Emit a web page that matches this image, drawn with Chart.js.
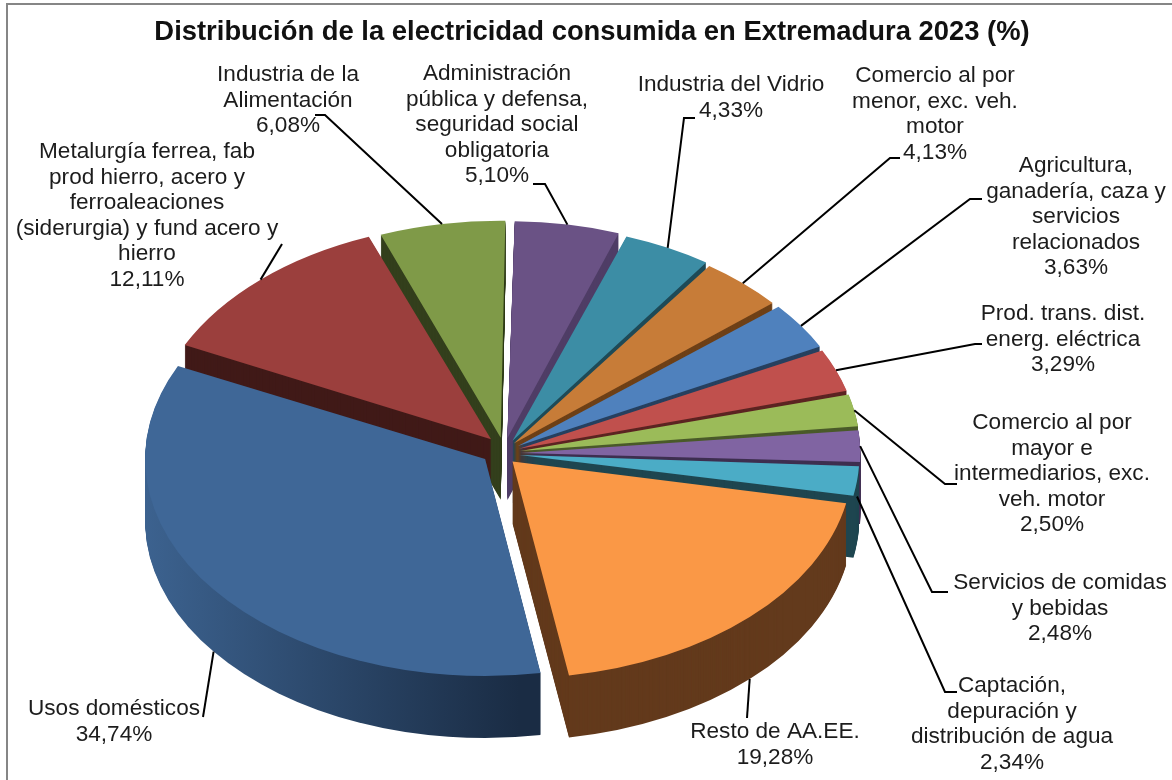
<!DOCTYPE html>
<html lang="es">
<head>
<meta charset="utf-8">
<title>Distribución de la electricidad</title>
<script src="https://cdn.jsdelivr.net/npm/chart.js@4/dist/chart.umd.min.js"></script>
<style>
  html, body { margin: 0; background: #fff; overflow: hidden; }
  #marco { position: absolute; left: 6px; top: 3px; width: 1166px; height: 777px; border-left: 2px solid #868686; border-top: 2px solid #868686; box-sizing: border-box; }
  #grafico { position: absolute; left: 0; top: 0; }
</style>
</head>
<body>
<div id="marco"></div>
<canvas id="grafico" width="1172" height="780"></canvas>
<script>
// Sectores en sentido horario desde las 12
const categorias = [
    'Administración pública y defensa, seguridad social obligatoria',
    'Industria del Vidrio',
    'Comercio al por menor, exc. veh. motor',
    'Agricultura, ganadería, caza y servicios relacionados',
    'Prod. trans. dist. energ. eléctrica',
    'Comercio al por mayor e intermediarios, exc. veh. motor',
    'Servicios de comidas y bebidas',
    'Captación, depuración y distribución de agua',
    'Resto de AA.EE.',
    'Usos domésticos',
    'Metalurgía ferrea, fab prod hierro, acero y ferroaleaciones (siderurgia) y fund acero y hierro',
    'Industria de la Alimentación'
];
const valores = [5.10, 4.33, 4.13, 3.63, 3.29, 2.50, 2.48, 2.34, 19.28, 34.74, 12.11, 6.08];

// Texto de cada etiqueta ya partido en líneas
const lineasEtiqueta = [
    ['Administración', 'pública y defensa,', 'seguridad social', 'obligatoria'],
    ['Industria del Vidrio'],
    ['Comercio al por', 'menor, exc. veh.', 'motor'],
    ['Agricultura,', 'ganadería, caza y', 'servicios', 'relacionados'],
    ['Prod. trans. dist.', 'energ. eléctrica'],
    ['Comercio al por', 'mayor e', 'intermediarios, exc.', 'veh. motor'],
    ['Servicios de comidas', 'y bebidas'],
    ['Captación,', 'depuración y', 'distribución de agua'],
    ['Resto de AA.EE.'],
    ['Usos domésticos'],
    ['Metalurgía ferrea, fab', 'prod hierro, acero y', 'ferroaleaciones', '(siderurgia) y fund acero y', 'hierro'],
    ['Industria de la', 'Alimentación']
];

const coloresCara = ['#6A5285', '#3C8DA5', '#C77C38', '#4F81BD', '#C0504D', '#9BBB59', '#8064A2', '#4BACC6', '#FA9846', '#3F6797', '#9B3F3D', '#7F9A48'];
const coloresLado = ['#4F3D66', '#1E4A57', '#6E4017', '#27405F', '#5C2422', '#4A5A2A', '#3E2F50', '#1F4650', '#633A1C', null, '#411A18', '#333F1C'];

// Separación de cada sector respecto al centro (la opción offset mueve offset/4 px)
const separacion = [48, 40, 32, 36, 36, 40, 44, 48, 60, 104, 80, 48];
// Corrección fina del vértice de cada sector, en px de pantalla
const ajuste = [[-5, 1.5], [-2.5, 2.1], [-2.3, 2.7], [-0.3, 4.6], [-0.2, 6], [-0.6, 7.2], [-1.8, 8.2], [-3.7, 9.1], [-9, 9], [-2, 3], [-4, 4.5], [-7, 1]];

// Centro de la primera línea de cada etiqueta
const posEtiqueta = [
    [497, 74], [731, 85], [935, 76], [1076, 166], [1063, 314], [1052, 423],
    [1060, 583], [1012, 686], [775, 732], [114, 709], [147, 152], [288, 75]
];
// Quiebros de la línea guía, de la etiqueta hacia el sector
const quiebros = [
    [[533, 184], [545, 184]],
    [[695, 118], [684, 118]],
    [[900, 158], [890, 158]],
    [[982, 199], [970, 199]],
    [[982, 344], [975, 344]],
    [[957, 484], [945, 484]],
    [[948, 592], [932, 592]],
    [[957, 692], [945, 692]],
    [[747, 718]],
    [[203, 717]],
    [[282, 244]],
    [[315, 115], [325, 115]]
];
// Parte de la pared lateral que baja la línea guía
const caidaGuia = [0, 0, 0, 0, 0, 0, 0, 0.25, 1, 1, 0, 0];

const vista = { cx: 510, cy: 445, rx: 340, ry: 217, fondo: 62 };
const fuente = '"Liberation Sans", Arial, sans-serif';

function ponerVista(ctx, arco, i, bajada) {
    ctx.translate(vista.cx + ajuste[i][0], vista.cy + ajuste[i][1] + bajada);
    ctx.scale(vista.rx / arco.outerRadius, vista.ry / arco.outerRadius);
    ctx.translate(-arco.x, -arco.y);
}

// Tarta en relieve: cada sector se apila capa a capa con el propio ArcElement
const relieve = {
    id: 'relieve',
    beforeDatasetsDraw(chart) {
        const ctx = chart.ctx;
        const arcos = chart.getDatasetMeta(0).data;
        const orden = arcos.map((a, i) => i).sort((a, b) => {
            const ma = (arcos[a].startAngle + arcos[a].endAngle) / 2;
            const mb = (arcos[b].startAngle + arcos[b].endAngle) / 2;
            return Math.sin(ma) - Math.sin(mb);
        });
        orden.forEach(i => {
            const arco = arcos[i];
            let lado = coloresLado[i];
            if (!lado) {
                lado = ctx.createLinearGradient(arco.x - arco.outerRadius, 0, arco.x + arco.outerRadius * 0.1, 0);
                lado.addColorStop(0, '#3C628F');
                lado.addColorStop(1, '#1A2C44');
            }
            // ArcElement agranda el radio según offset y amplitud; aquí solo debe desplazarse
            const crece = separacion[i] / 4 * (1 - Math.sin(Math.min(Math.PI, arco.circumference)));
            for (let k = vista.fondo; k >= 0; k--) {
                const capa = Object.create(arco);
                capa.options = { ...arco.options, borderWidth: 0, backgroundColor: k === 0 ? coloresCara[i] : lado };
                capa.outerRadius = arco.outerRadius - crece;
                ctx.save();
                ponerVista(ctx, arco, i, k);
                capa.draw(ctx);
                ctx.restore();
            }
        });
        return false;
    },
    afterDraw(chart) {
        const ctx = chart.ctx;
        const arcos = chart.getDatasetMeta(0).data;
        ctx.save();
        arcos.forEach((arco, i) => {
            const medio = (arco.startAngle + arco.endAngle) / 2;
            const radio = arco.outerRadius + separacion[i] / 4;
            const sx = vista.rx / arco.outerRadius;
            const sy = vista.ry / arco.outerRadius;
            const px = vista.cx + ajuste[i][0] + Math.cos(medio) * radio * sx;
            const py = vista.cy + ajuste[i][1] + Math.sin(medio) * radio * sy + caidaGuia[i] * vista.fondo;

            ctx.strokeStyle = '#000';
            ctx.lineWidth = 2;
            ctx.beginPath();
            quiebros[i].forEach((q, n) => n ? ctx.lineTo(q[0], q[1]) : ctx.moveTo(q[0], q[1]));
            ctx.lineTo(px, py);
            ctx.stroke();

            ctx.fillStyle = '#1c1c1c';
            ctx.font = '22.6px ' + fuente;
            ctx.textAlign = 'center';
            ctx.textBaseline = 'middle';
            const texto = lineasEtiqueta[i].concat(valores[i].toFixed(2).replace('.', ',') + '%');
            texto.forEach((linea, n) => ctx.fillText(linea, posEtiqueta[i][0], posEtiqueta[i][1] + n * 25.5));
        });
        ctx.restore();
    }
};

new Chart(document.getElementById('grafico'), {
    type: 'pie',
    data: {
        labels: categorias,
        datasets: [{
            data: valores,
            backgroundColor: coloresCara,
            offset: separacion,
            borderWidth: 0
        }]
    },
    options: {
        responsive: false,
        animation: false,
        rotation: 1,
        layout: { padding: { left: 12 } },
        plugins: {
            legend: { display: false },
            tooltip: { enabled: false },
            title: {
                display: true,
                text: 'Distribución de la electricidad consumida en Extremadura 2023 (%)',
                color: '#111',
                font: { family: fuente, size: 27.4, weight: 'bold' },
                padding: { top: 16, bottom: 10 }
            }
        }
    },
    plugins: [relieve]
});
</script>
</body>
</html>
